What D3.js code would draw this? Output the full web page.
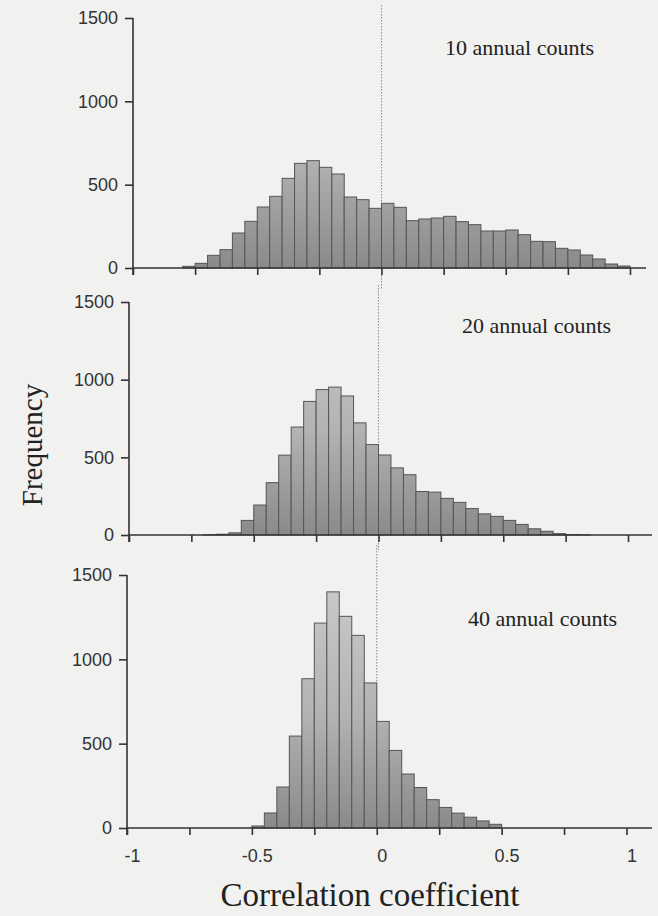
<!DOCTYPE html>
<html>
<head>
<meta charset="utf-8">
<script src="https://cdn.jsdelivr.net/npm/d3@7"></script>
<style>
  html, body { margin: 0; padding: 0; background: #f1f1ef; }
  svg { display: block; }
</style>
</head>
<body>
<script>
// ---- data ----
const binStarts = [-1.00,-0.95,-0.90,-0.85,-0.80,-0.75,-0.70,-0.65,-0.60,-0.55,
                   -0.50,-0.45,-0.40,-0.35,-0.30,-0.25,-0.20,-0.15,-0.10,-0.05,
                    0.00, 0.05, 0.10, 0.15, 0.20, 0.25, 0.30, 0.35, 0.40, 0.45,
                    0.50, 0.55, 0.60, 0.65, 0.70, 0.75, 0.80, 0.85, 0.90, 0.95];
const binWidth = 0.05;
const counts10 = [0,0,0,0,10,28,76,110,210,280,
                  366,430,538,628,644,604,564,426,410,358,
                  388,364,284,294,300,310,278,260,222,222,
                  228,200,160,158,118,108,78,54,24,12];
const counts20 = [0,0,0,0,0,0,2,5,14,94,
                  193,337,514,695,860,936,952,895,722,582,
                  515,432,388,280,276,236,210,170,136,120,
                  94,68,40,24,9,3,1,0,0,0];
const counts40 = [0,0,0,0,0,0,0,0,0,0,
                  12,89,243,545,885,1215,1400,1255,1142,860,
                  632,460,320,240,168,122,88,64,42,22,
                  0,0,0,0,0,0,0,0,0,0];
const panelLabels = ["10 annual counts", "20 annual counts", "40 annual counts"];
const yTicks = [0, 500, 1000, 1500];
const xTicks = [-1, -0.75, -0.5, -0.25, 0, 0.25, 0.5, 0.75, 1];
const xLabelled = [-1, -0.5, 0, 0.5, 1];
const xTickLabels = ["-1", "-0.5", "0", "0.5", "1"];
const xTitle = "Correlation coefficient";
const yTitle = "Frequency";

// ---- layout ----
const W = 658, H = 916;
const panels = [
  { counts: counts10, label: panelLabels[0], x0: 133, x1: 630, axisEnd: 646, yTop: 18,  yBase: 268, lx: 445, ly: 55,  zTop: 5,   zBot: 290 },
  { counts: counts20, label: panelLabels[1], x0: 129, x1: 628, axisEnd: 652, yTop: 302, yBase: 535, lx: 462, ly: 333, zTop: 285, zBot: 550 },
  { counts: counts40, label: panelLabels[2], x0: 127, x1: 626.5, axisEnd: 652, yTop: 575, yBase: 828, lx: 468, ly: 626, zTop: 545, zBot: 828 }
];

const svg = d3.select("body").append("svg").attr("width", W).attr("height", H);
svg.append("rect").attr("width", W).attr("height", H).attr("fill", "#f1f1ef");

const defs = svg.append("defs");

panels.forEach((p, i) => {
  const x = d3.scaleLinear().domain([-1, 1]).range([p.x0, p.x1]);
  const y = d3.scaleLinear().domain([0, 1500]).range([p.yBase, p.yTop]);
  const g = svg.append("g");

  const gid = "grad" + i;
  const grad = defs.append("linearGradient").attr("id", gid)
    .attr("gradientUnits", "userSpaceOnUse")
    .attr("x1", 0).attr("x2", 0).attr("y1", p.yTop).attr("y2", p.yBase);
  grad.append("stop").attr("offset", "0%").attr("stop-color", "#cbcbcb");
  grad.append("stop").attr("offset", "55%").attr("stop-color", "#b3b3b3");
  grad.append("stop").attr("offset", "100%").attr("stop-color", "#8a8a8a");

  // zero reference line
  g.append("line")
    .attr("x1", x(0)).attr("x2", x(0))
    .attr("y1", p.zTop).attr("y2", p.zBot)
    .attr("stroke", "#8a8a8a").attr("stroke-width", 1)
    .attr("stroke-dasharray", "1.5,1.5");

  const data = binStarts.map((b, k) => ({ b, v: p.counts[k] })).filter(d => d.v > 0);
  g.selectAll("rect.bar").data(data).enter().append("rect")
    .attr("class", "bar")
    .attr("x", d => x(d.b))
    .attr("width", d => x(d.b + binWidth) - x(d.b))
    .attr("y", d => y(d.v))
    .attr("height", d => y(0) - y(d.v))
    .attr("fill", `url(#${gid})`)
    .attr("stroke", "#555")
    .attr("stroke-width", 1);

  // x axis
  const xAxis = d3.axisBottom(x).tickValues(xTicks).tickSize(7)
    .tickFormat((d) => {
      if (i !== 2) return "";
      const idx = xLabelled.indexOf(d);
      return idx >= 0 ? xTickLabels[idx] : "";
    });
  const gx = g.append("g").attr("transform", `translate(0,${p.yBase})`).call(xAxis);
  gx.select(".domain").remove();
  gx.append("line").attr("x1", x(-1)).attr("x2", p.axisEnd).attr("y1", 0).attr("y2", 0)
    .attr("stroke", "#333").attr("stroke-width", 1.6);
  gx.selectAll(".tick line").attr("stroke", "#333").attr("stroke-width", 1.6);
  gx.selectAll(".tick text")
    .attr("font-family", "'Liberation Sans', Arial, sans-serif")
    .attr("font-size", 18).attr("fill", "#333")
    .attr("dx", 5).attr("y", 21);

  // y axis
  const yAxis = d3.axisLeft(y).tickValues(yTicks).tickSize(8).tickPadding(7)
    .tickFormat(d3.format("d"));
  const gy = g.append("g").attr("transform", `translate(${x(-1)},0)`).call(yAxis);
  gy.select(".domain").remove();
  gy.append("line").attr("x1", 0).attr("x2", 0).attr("y1", p.yTop).attr("y2", p.yBase + 7)
    .attr("stroke", "#333").attr("stroke-width", 1.6);
  gy.selectAll(".tick line").attr("stroke", "#333").attr("stroke-width", 1.6);
  gy.selectAll(".tick text")
    .attr("font-family", "'Liberation Sans', Arial, sans-serif")
    .attr("font-size", 18).attr("fill", "#333");

  // panel label
  g.append("text").attr("x", p.lx).attr("y", p.ly)
    .attr("font-family", "'Liberation Serif', 'Times New Roman', serif")
    .attr("font-size", 22).attr("fill", "#222")
    .text(p.label);
});

// axis titles
svg.append("text")
  .attr("x", 370).attr("y", 906)
  .attr("text-anchor", "middle")
  .attr("font-family", "'Liberation Serif', 'Times New Roman', serif")
  .attr("font-size", 33).attr("fill", "#222")
  .text(xTitle);

svg.append("text")
  .attr("transform", "translate(42,445) rotate(-90)")
  .attr("text-anchor", "middle")
  .attr("font-family", "'Liberation Serif', 'Times New Roman', serif")
  .attr("font-size", 29).attr("fill", "#222")
  .text(yTitle);
</script>
</body>
</html>
